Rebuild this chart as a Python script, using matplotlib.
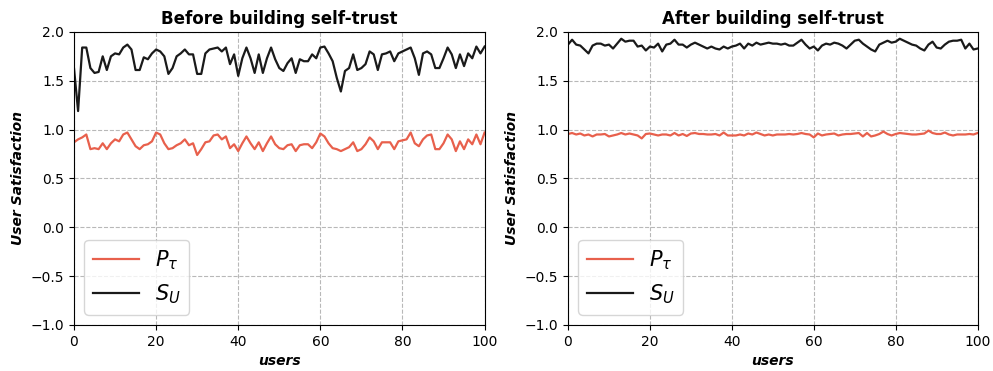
import numpy as np
import matplotlib
matplotlib.use('Agg')
import matplotlib.pyplot as plt

users = np.arange(0, 101)

# before building self-trust
su_before = [1.63, 1.19, 1.84, 1.84, 1.63, 1.58, 1.59, 1.75, 1.61, 1.75,
             1.78, 1.77, 1.84, 1.87, 1.82, 1.61, 1.61, 1.74, 1.72, 1.78,
             1.82, 1.80, 1.75, 1.57, 1.63, 1.75, 1.78, 1.82, 1.77, 1.77,
             1.57, 1.57, 1.78, 1.82, 1.83, 1.84, 1.80, 1.84, 1.67, 1.77,
             1.55, 1.73, 1.84, 1.73, 1.58, 1.77, 1.58, 1.73, 1.84, 1.72,
             1.63, 1.60, 1.68, 1.73, 1.58, 1.72, 1.70, 1.70, 1.77, 1.73,
             1.84, 1.85, 1.78, 1.70, 1.53, 1.39, 1.60, 1.63, 1.77, 1.61,
             1.63, 1.67, 1.80, 1.77, 1.61, 1.77, 1.78, 1.80, 1.70, 1.78,
             1.80, 1.82, 1.84, 1.73, 1.56, 1.78, 1.80, 1.77, 1.63, 1.63,
             1.73, 1.84, 1.77, 1.63, 1.77, 1.65, 1.78, 1.73, 1.85, 1.78,
             1.85]
p_before = [0.87, 0.90, 0.92, 0.95, 0.80, 0.81, 0.80, 0.86, 0.80, 0.86,
            0.90, 0.88, 0.95, 0.97, 0.90, 0.83, 0.80, 0.84, 0.85, 0.88,
            0.97, 0.95, 0.86, 0.80, 0.81, 0.84, 0.86, 0.90, 0.84, 0.86,
            0.74, 0.80, 0.87, 0.88, 0.94, 0.95, 0.90, 0.93, 0.81, 0.85,
            0.78, 0.86, 0.93, 0.86, 0.80, 0.87, 0.78, 0.86, 0.93, 0.85,
            0.81, 0.80, 0.84, 0.85, 0.78, 0.84, 0.85, 0.85, 0.81, 0.87,
            0.96, 0.93, 0.86, 0.81, 0.80, 0.78, 0.80, 0.82, 0.87, 0.78,
            0.80, 0.85, 0.92, 0.88, 0.80, 0.87, 0.87, 0.87, 0.80, 0.88,
            0.89, 0.90, 0.97, 0.86, 0.83, 0.90, 0.94, 0.95, 0.80, 0.80,
            0.86, 0.95, 0.90, 0.78, 0.88, 0.80, 0.90, 0.85, 0.95, 0.85,
            0.97]

# after building self-trust
su_after = [1.87, 1.92, 1.87, 1.86, 1.82, 1.78, 1.86, 1.88, 1.88, 1.86,
            1.87, 1.83, 1.88, 1.93, 1.90, 1.91, 1.91, 1.85, 1.86, 1.81,
            1.85, 1.84, 1.88, 1.80, 1.87, 1.88, 1.92, 1.87, 1.87, 1.84,
            1.87, 1.89, 1.87, 1.85, 1.83, 1.85, 1.83, 1.82, 1.85, 1.83,
            1.85, 1.86, 1.88, 1.83, 1.88, 1.86, 1.89, 1.87, 1.88, 1.89,
            1.88, 1.88, 1.87, 1.88, 1.86, 1.86, 1.89, 1.92, 1.87, 1.83,
            1.85, 1.81, 1.86, 1.88, 1.87, 1.89, 1.88, 1.86, 1.83, 1.87,
            1.91, 1.92, 1.88, 1.85, 1.82, 1.80, 1.87, 1.89, 1.91, 1.89,
            1.90, 1.93, 1.91, 1.89, 1.87, 1.86, 1.83, 1.81, 1.87, 1.90,
            1.84, 1.83, 1.87, 1.90, 1.91, 1.91, 1.92, 1.83, 1.88, 1.82,
            1.83]
p_after = [0.955, 0.965, 0.95, 0.96, 0.94, 0.95, 0.93, 0.95, 0.95, 0.955,
           0.93, 0.94, 0.95, 0.965, 0.95, 0.96, 0.95, 0.94, 0.91, 0.955,
           0.96, 0.95, 0.94, 0.95, 0.95, 0.94, 0.965, 0.94, 0.955, 0.935,
           0.96, 0.965, 0.955, 0.955, 0.95, 0.95, 0.955, 0.94, 0.97, 0.94,
           0.94, 0.94, 0.95, 0.94, 0.96, 0.95, 0.97, 0.955, 0.94, 0.95,
           0.94, 0.95, 0.95, 0.95, 0.955, 0.95, 0.955, 0.965, 0.955, 0.95,
           0.92, 0.96, 0.94, 0.95, 0.955, 0.96, 0.94, 0.95, 0.955, 0.955,
           0.96, 0.965, 0.93, 0.965, 0.93, 0.94, 0.955, 0.98, 0.955, 0.94,
           0.955, 0.965, 0.96, 0.955, 0.95, 0.95, 0.955, 0.96, 0.99, 0.965,
           0.955, 0.955, 0.97, 0.95, 0.94, 0.95, 0.95, 0.95, 0.955, 0.95,
           0.965]

titles = ['Before building self-trust', 'After building self-trust']
red = '#e8604c'
dark = '#1a1a1a'

fig = plt.figure(figsize=(9.93, 3.71), dpi=100)
ax1 = fig.add_axes([0.0745, 0.124, 0.4135, 0.790])
ax2 = fig.add_axes([0.572, 0.124, 0.4125, 0.790])

for ax, p, su, title in [(ax1, p_before, su_before, titles[0]),
                         (ax2, p_after, su_after, titles[1])]:
    ax.plot(users, p, color=red, lw=1.6, label=r'$P_\tau$')
    ax.plot(users, su, color=dark, lw=1.6, label=r'$S_U$')
    ax.set_xlim(0, 100)
    ax.set_ylim(-1.0, 2.0)
    ax.set_yticks(np.arange(-1.0, 2.01, 0.5))
    ax.set_xticks([0, 20, 40, 60, 80, 100])
    ax.grid(True, linestyle='--', color='#b8b8b8', lw=0.8)
    ax.set_title(title, fontsize=12, fontweight='bold')
    ax.set_xlabel('users', fontsize=10, fontweight='bold', fontstyle='italic')
    ax.set_ylabel('User Satisfaction', fontsize=10, fontweight='bold', fontstyle='italic')
    ax.tick_params(labelsize=10)
    ax.legend(loc='lower left', fontsize=15, handlelength=2.2)

fig.savefig('out.png', dpi=100)
